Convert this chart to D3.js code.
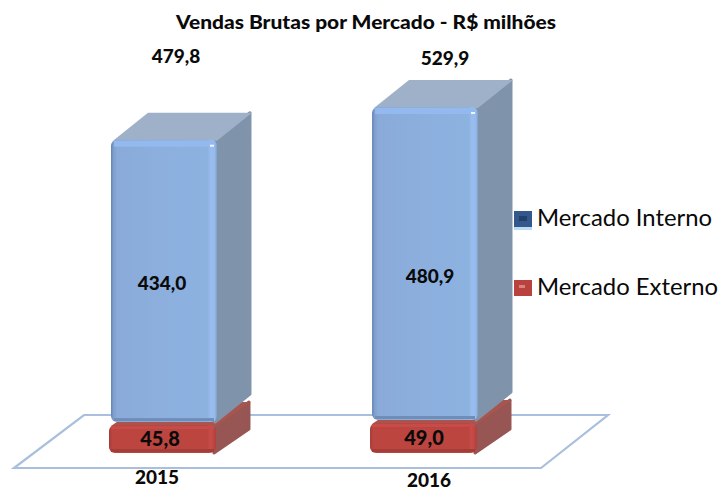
<!DOCTYPE html>
<html><head><meta charset="utf-8">
<script src="https://cdn.jsdelivr.net/npm/d3@7"></script>
<style>html,body{margin:0;background:#fff}svg{display:block}text{font-family:Lato,"Open Sans",sans-serif;fill:#0a0a0a}</style>
</head><body><svg id="c" width="720" height="491"></svg>
<script>
const title = "Vendas Brutas por Mercado -  R$ milhões";
const years = ["2015", "2016"];
const interno = [434.0, 480.9];
const externo = [45.8, 49.0];
const totais = [479.8, 529.9];
const seriesNames = ["Mercado Interno", "Mercado Externo"];
const fmt = v => v.toFixed(1).replace(".", ",");

const svg = d3.select("#c");
const DX = 35;
const y = d3.scaleLinear().domain([0, 529.9]).range([453, 107]);
const x = d3.scaleBand().domain(years).range([111, 478]).paddingInner(0.594).paddingOuter(0);
const bw = x.bandwidth();

const defs = svg.append("defs");
function lin(id, stops) {
  const g = defs.append("linearGradient").attr("id", id).attr("x1", 0).attr("x2", 1).attr("y1", 0).attr("y2", 0);
  stops.forEach(s => g.append("stop").attr("offset", s[0]).attr("stop-color", s[1]));
}
lin("blueH", [[0, "#6485b3"], [0.025, "#7f9fcd"], [0.06, "#8aabda"], [0.5, "#8cafde"], [0.91, "#8cb2e0"], [0.94, "#98bdee"], [0.98, "#95baeb"], [1, "#7f9fc9"]]);
lin("redH", [[0, "#a43a36"], [0.03, "#bd4541"], [0.92, "#bc4440"], [0.95, "#c94d49"], [1, "#b23f3c"]]);
defs.append("filter").attr("id", "soft").append("feGaussianBlur").attr("stdDeviation", 0.7);

// floor
const floor = [[14, 468], [541, 468], [608, 415], [84, 415]];
svg.append("polygon").attr("points", floor.join(" "))
  .attr("fill", "none").attr("stroke", "#a9bfdc").attr("stroke-width", 2.2);

const g = svg.append("g").attr("filter", "url(#soft)");
function box(xl, w, yt, yb, DY, front, side, top) {
  g.append("path").attr("d", `M${xl + w - 2},${yt + 1}l${DX},${-DY}V${yb - DY}l${-DX},${DY}Z`)
    .attr("fill", side).attr("stroke", side).attr("stroke-width", 3).attr("stroke-linejoin", "round");
  g.append("path").attr("d", `M${xl + 2},${yt + 1}l${DX},${-DY}h${w - 2}l${-DX},${DY}Z`).attr("fill", top);
  g.append("rect").attr("x", xl).attr("y", yt).attr("width", w).attr("height", yb - yt)
    .attr("rx", 6).attr("fill", front);
}
const redTops = [];
years.forEach((yr, i) => {
  const xl = x(yr);
  const redTop = y(externo[i]);
  const blueTop = y(externo[i] + interno[i]);
  redTops.push(redTop);
  box(xl - 2, bw + 1, redTop + 2, y(0), 24, "url(#redH)", "#975652", "#a85450");
  g.append("rect").attr("x", xl).attr("y", y(0) - 4).attr("width", bw - 3).attr("height", 3).attr("fill", "#a43c38");
  g.append("rect").attr("x", xl).attr("y", redTop + 3).attr("width", bw - 3).attr("height", 3).attr("fill", "#c74c48");
  box(xl, bw, blueTop, redTop - 1, 28, "url(#blueH)", "#7f93ab", "#9fb1c9");
  g.append("rect").attr("x", xl + 3).attr("y", blueTop + 1).attr("width", bw - 6).attr("height", 6).attr("fill", "#93b9ee");
  g.append("rect").attr("x", xl + 3).attr("y", redTop - 5).attr("width", bw - 6).attr("height", 3).attr("fill", "#6f8db8");
  svg.append("rect").attr("x", xl + bw - 7).attr("y", blueTop + 5).attr("width", 4).attr("height", 2).attr("fill", "#eef5ff");
});

// value labels
const innerShift = [-2, 5], outerShift = [-4, -1], innerY = [290, 283];
years.forEach((yr, i) => {
  const xl = x(yr);
  svg.append("text").attr("x", xl + bw / 2 + outerShift[i]).attr("y", (redTops[i] + 2 + y(0)) / 2 + 7)
    .attr("text-anchor", "middle").attr("font-weight", 900).attr("font-size", 20).text(fmt(externo[i]));
  svg.append("text").attr("x", xl + bw / 2 + innerShift[i]).attr("y", innerY[i])
    .attr("text-anchor", "middle").attr("font-weight", 900).attr("font-size", 19).text(fmt(interno[i]));
});

// totals
const totalX = [176, 445], totalY = [63, 65];
years.forEach((yr, i) => {
  svg.append("text").attr("x", totalX[i]).attr("y", totalY[i]).attr("text-anchor", "middle")
    .attr("font-weight", 900).attr("font-size", 19).text(fmt(totais[i]));
});
// year labels
const yearX = [157, 429], yearY = [484, 487];
years.forEach((yr, i) => {
  svg.append("text").attr("x", yearX[i]).attr("y", yearY[i]).attr("text-anchor", "middle")
    .attr("font-weight", 900).attr("font-size", 19).text(yr);
});
// title
svg.append("text").attr("x", 176).attr("y", 29)
  .attr("font-weight", 900).attr("font-size", 19)
  .attr("textLength", 380).attr("lengthAdjust", "spacingAndGlyphs").text(title);

// legend
const legendCols = ["#35588c", "#b9423e"], legendInner = ["#23406c", "#d9837f"], legendY = [219, 288];
seriesNames.forEach((n, i) => {
  svg.append("rect").attr("x", 514).attr("y", legendY[i] - 8).attr("width", 18).attr("height", 16).attr("fill", legendCols[i]);
  if (!i) svg.append("rect").attr("x", 514).attr("y", legendY[i] + 8).attr("width", 18).attr("height", 3).attr("fill", "#bcdcf5");
  svg.append("rect").attr("x", 519).attr("y", legendY[i] - 3).attr("width", i ? 6 : 8).attr("height", i ? 3 : 5).attr("fill", legendInner[i]);
  svg.append("text").attr("x", 537).attr("y", legendY[i] + 7).attr("font-size", 23)
    .attr("textLength", i ? 181 : 175).attr("lengthAdjust", "spacingAndGlyphs").text(n);
});
</script></body></html>
